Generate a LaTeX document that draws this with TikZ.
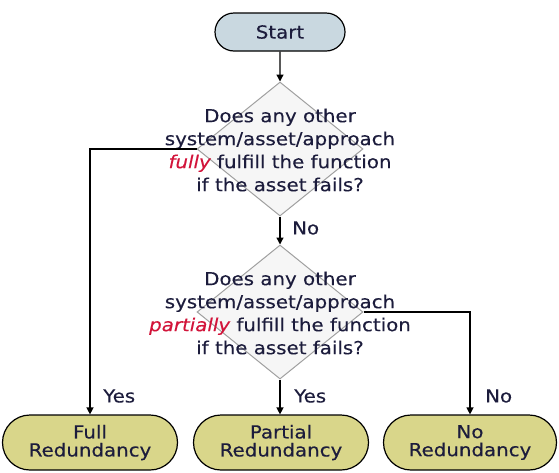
\documentclass[tikz,border=0pt]{standalone}
\usepackage{fontspec}
\setmainfont{DejaVu Sans}[FakeStretch=1.1, FakeBold=0.3]
\usetikzlibrary{shapes.geometric,shapes.misc,arrows.meta}
\definecolor{ink}{HTML}{1C1C3C}
\definecolor{startfill}{HTML}{C9D8E0}
\definecolor{endfill}{HTML}{D9D68A}
\definecolor{decfill}{HTML}{F6F6F6}
\definecolor{decline}{HTML}{A0A0A0}
\definecolor{accent}{HTML}{D2143A}
\tikzset{
  terminal/.style={rounded rectangle, draw=black, line width=1.2pt, minimum height=#1, inner sep=0pt, text=ink, align=center, font=\fontsize{18}{18}\selectfont},
  terminal/.default=38pt,
  decision/.style={diamond, draw=decline, fill=decfill, line width=1pt, minimum width=166pt, minimum height=134pt, inner sep=0pt},
  question/.style={text=ink, align=center, font=\fontsize{18}{23}\selectfont, inner sep=0pt},
  flow/.style={draw=black, line width=1.3pt, -{Triangle[length=7pt,width=7pt]}},
  lbl/.style={text=ink, font=\fontsize{18}{19}\selectfont, inner sep=0pt, anchor=west}
}
\begin{document}
\begin{tikzpicture}[x=1pt,y=-1pt]
\useasboundingbox (0,0) rectangle (559,472);
\node[terminal, fill=startfill, minimum width=130pt] (start) at (280,32) {Start};
\node[decision] (d1) at (280,149) {};
\node[question] (q1) at (280,150) {Does any other\\system/asset/approach\\{\itshape\color{accent}fully} fulfill the function\\if the asset fails?};
\node[decision] (d2) at (280,312) {};
\node[question] (q2) at (280,313) {Does any other\\system/asset/approach\\{\itshape\color{accent}partially} fulfill the function\\if the asset fails?};
\node[terminal=55pt, fill=endfill, minimum width=175pt] (full) at (90,442.5) {Full\\Redundancy};
\node[terminal=55pt, fill=endfill, minimum width=175pt] (part) at (281,442.5) {Partial\\Redundancy};
\node[terminal=55pt, fill=endfill, minimum width=173pt] (none) at (470,442.5) {No\\Redundancy};
\draw[flow] (start) -- (d1.north);
\draw[flow] (d1.south) -- (d2.north);
\draw[flow] (d1.west) -| (full.north);
\draw[flow] (d2.south) -- (d2.south |- part.north);
\draw[flow] (d2.east) -| (none.north);
\node[lbl] (ly1) at (103,396) {Yes};
\node[lbl] (ln1) at (292,228) {No};
\node[lbl] (ly2) at (294,396) {Yes};
\node[lbl] (ln2) at (485,396) {No};
\end{tikzpicture}
\end{document}
